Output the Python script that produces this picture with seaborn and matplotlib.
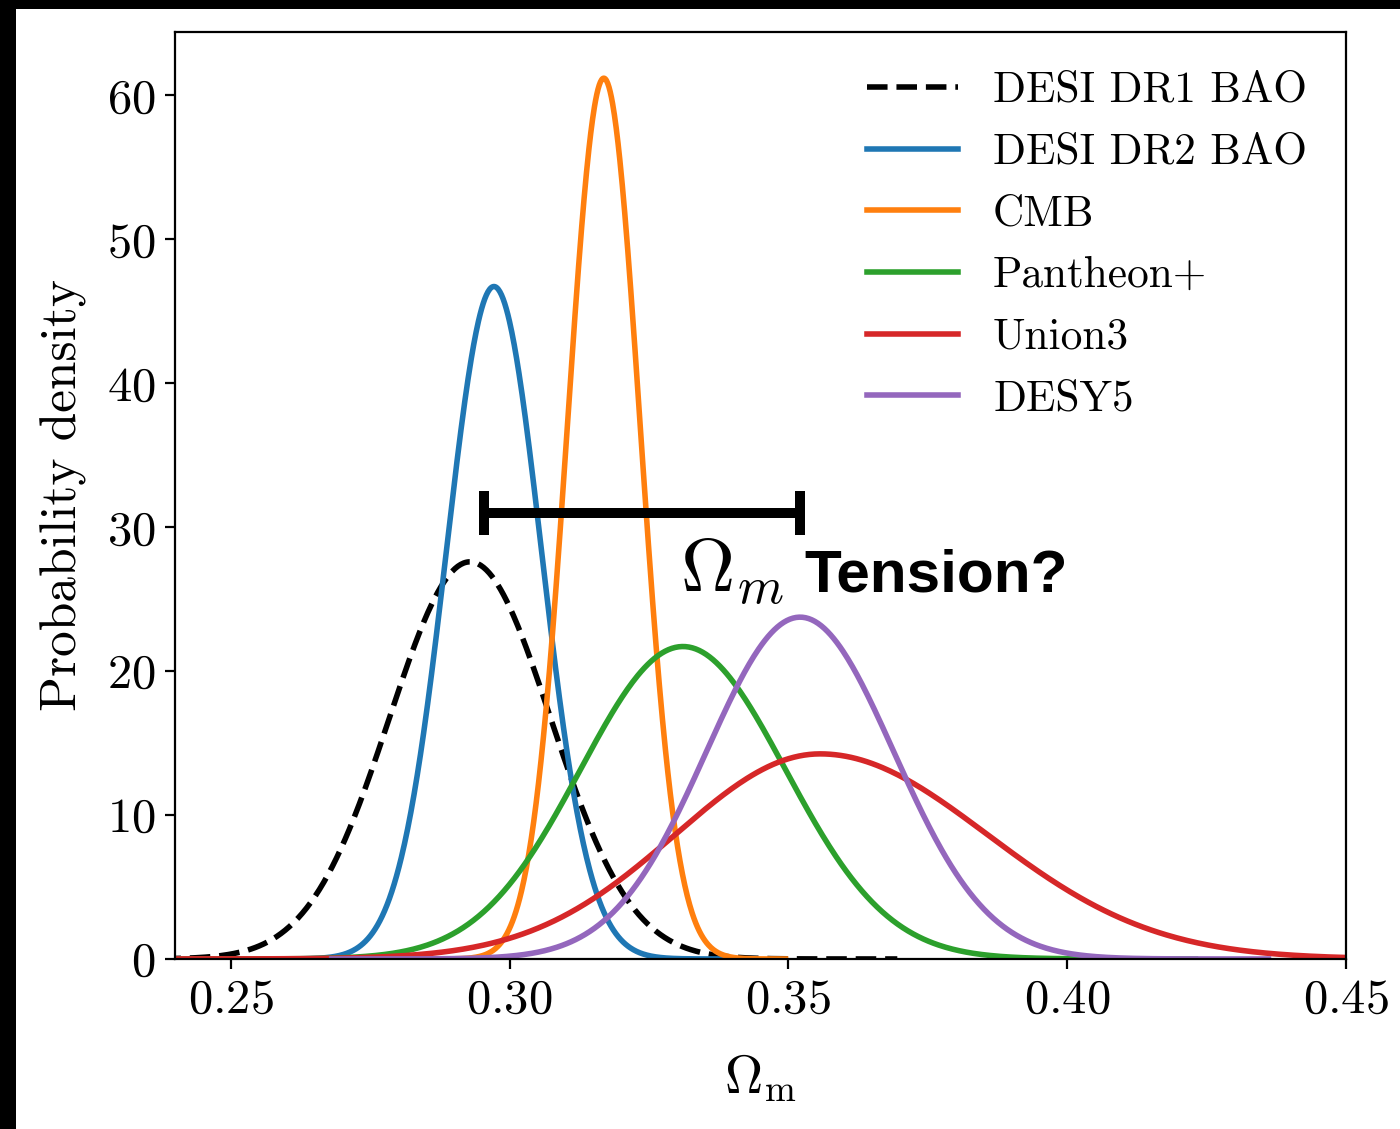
import numpy as np
import pandas as pd
import matplotlib
matplotlib.use("Agg")
import matplotlib.pyplot as plt
from matplotlib.patches import Rectangle
import seaborn as sns

# ---- data ----
labels = ["DESI DR1 BAO", "DESI DR2 BAO", "CMB", "Pantheon+", "Union3", "DESY5"]
means = [0.2929, 0.2972, 0.3169, 0.3311, 0.3557, 0.3521]
sigma_lo = [0.01446, 0.00854, 0.00652, 0.01838, 0.0260, 0.0168]
sigma_hi = [0.01446, 0.00854, 0.00652, 0.01838, 0.0300, 0.0168]
span_sigma = [5.3, 5.0, 5.0, 5.0, 5.0, 5.0]
colors = ["black", "#1f77b4", "#ff7f0e", "#2ca02c", "#d62728", "#9467bd"]
styles = ["--", "-", "-", "-", "-", "-"]
tension_range = [0.2955, 0.3520]
tension_level = 31.0
x_ticks = [0.25, 0.30, 0.35, 0.40, 0.45]
y_ticks = [0, 10, 20, 30, 40, 50, 60]

plt.rcParams.update({
    "font.family": "serif",
    "font.serif": ["cmr10", "DejaVu Serif"],
    "mathtext.fontset": "cm",
    "axes.formatter.use_mathtext": True,
    "axes.unicode_minus": False,
})

fig = plt.figure(figsize=(7.0, 5.645), dpi=200)
ax = fig.add_axes([0.125, 0.1506, 0.8364, 0.8211])


def split_normal(x, m, sl, sh):
    norm = 2.0 / (np.sqrt(2 * np.pi) * (sl + sh))
    s = np.where(x < m, sl, sh)
    return norm * np.exp(-0.5 * ((x - m) / s) ** 2)


for lab, m, sl, sh, ns, c, ls in zip(labels, means, sigma_lo, sigma_hi,
                                     span_sigma, colors, styles):
    x = np.linspace(m - ns * sl, m + ns * sh, 600)
    df = pd.DataFrame({"x": x, "y": split_normal(x, m, sl, sh)})
    sns.lineplot(data=df, x="x", y="y", ax=ax, color=c, linestyle=ls,
                 linewidth=2.0, label=lab)

# tension bar
center = 0.5 * (tension_range[0] + tension_range[1])
half = 0.5 * (tension_range[1] - tension_range[0])
ax.errorbar([center], [tension_level], xerr=[half], fmt="none", ecolor="black",
            elinewidth=3.6, capsize=8.0, capthick=3.6, zorder=5)
ax.text(0.3306, 25.5, r"$\Omega_m$", fontsize=27, ha="left", va="baseline",
        color="black")
ax.text(0.3528, 25.5, "Tension?", fontsize=21.7, fontweight="bold",
        family=["Liberation Sans", "DejaVu Sans"], ha="left", va="baseline",
        color="black")

ax.set_xlim(0.24, 0.45)
ax.set_ylim(0, 64.4)
ax.set_xticks(x_ticks)
ax.set_yticks(y_ticks)
ax.tick_params(labelsize=17.5)
ax.set_xlabel(r"$\Omega_{\rm m}$", fontsize=19, labelpad=10.5)
ax.set_ylabel("Probability density", fontsize=18.5, labelpad=7)

leg = ax.legend(loc="upper right", frameon=False, fontsize=15.6,
                handlelength=2.1)

# black border strips (top and left) as in the reference
fig.patches.append(Rectangle((0, 1 - 9 / 1129), 1, 9 / 1129, transform=fig.transFigure,
                             facecolor="black", edgecolor="none", zorder=10))
fig.patches.append(Rectangle((0, 0), 16 / 1400, 1, transform=fig.transFigure,
                             facecolor="black", edgecolor="none", zorder=10))

fig.savefig("out.png", dpi=200)
